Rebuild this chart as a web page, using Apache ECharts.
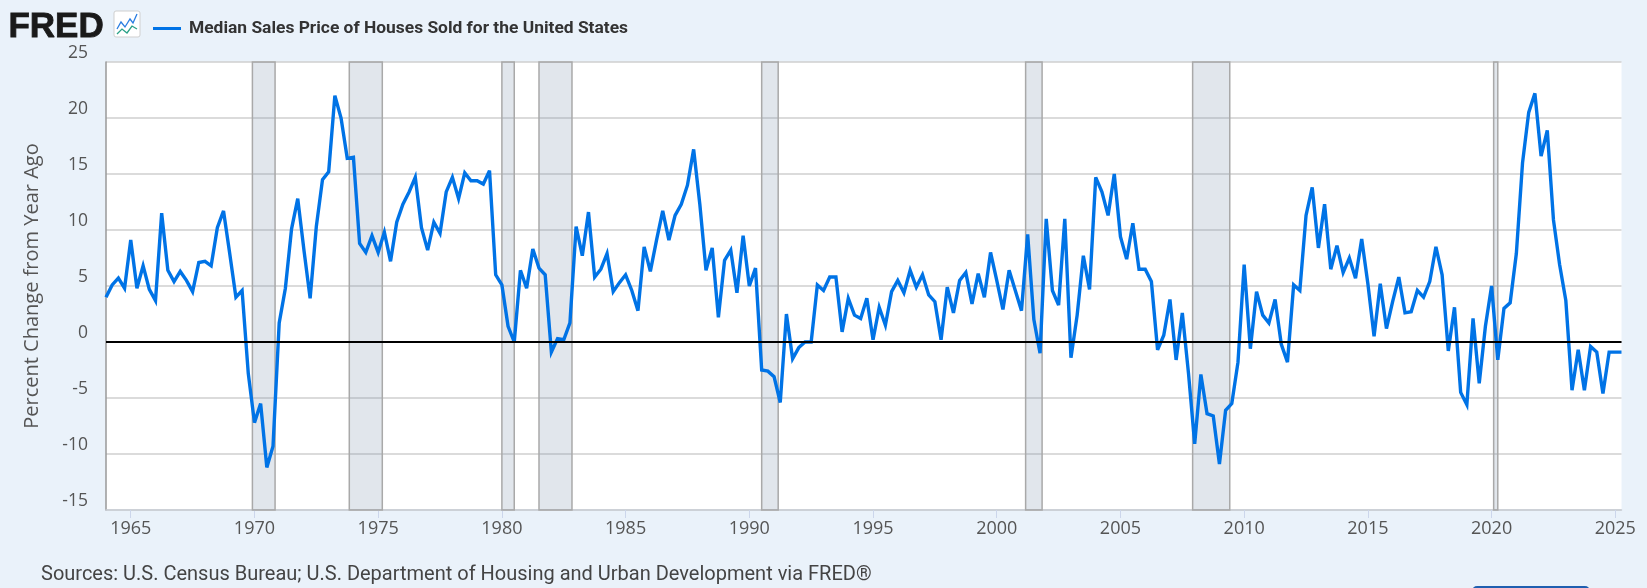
<!DOCTYPE html>
<html>
<head>
<meta charset="utf-8">
<script src="https://cdn.jsdelivr.net/npm/echarts@6/dist/echarts.min.js"></script>
<style>
html,body{margin:0;padding:0;background:#eaf2fa;}
#chart{width:1647px;height:588px;}
</style>
</head>
<body>
<div id="chart"></div>
<script>
// quarterly percent change from year ago, starting 1964 Q1
const startYear = 1964;
const v1960s = [4.0,5.1,5.7,4.8, 9.1,4.8,6.8,4.7, 3.7,11.5,6.4,5.4, 6.3,5.5,4.5,7.1, 7.2,6.8,10.2,11.7, 7.9,4.0,4.6,-2.8];
const v1970s = [-7.2,-5.5,-11.2,-9.3, 1.7,4.8,10.1,12.8, 8.2,3.9,10.3,14.5, 15.2,22.0,20.0,16.4, 16.5,8.8,8.0,9.5,
                8.0,9.8,7.2,10.7, 12.3,13.4,14.7,10.2, 8.2,10.7,9.7,13.4, 14.7,12.8,15.1,14.4, 14.4,14.1,15.3,6.0];
const v1980s = [5.1,1.4,0.0,6.4, 4.8,8.3,6.6,6.0, -0.9,0.3,0.2,1.7, 10.3,7.7,11.6,5.8, 6.5,7.9,4.5,5.3,
                6.0,4.6,2.8,8.5, 6.3,9.1,11.7,9.1, 11.3,12.3,14.0,17.2, 12.3,6.4,8.4,2.2, 7.3,8.2,4.4,9.5];
const v1990s = [5.0,6.6,-2.5,-2.6, -3.1,-5.4,2.5,-1.5, -0.5,0.0,0.0,5.1, 4.6,5.8,5.8,0.9, 3.9,2.4,2.1,3.9,
                0.2,3.1,1.5,4.5, 5.5,4.4,6.4,4.9, 6.0,4.2,3.6,0.2, 4.9,2.6,5.5,6.2, 3.4,6.1,4.0,8.0];
const v2000s = [5.5,2.9,6.4,4.6, 2.8,9.6,2.0,-1.0, 11.0,4.6,3.3,11.0, -1.4,2.4,7.7,4.7, 14.7,13.4,11.3,15.0,
                9.4,7.4,10.6,6.5, 6.5,5.4,-0.7,0.6, 3.8,-1.6,2.6,-2.8, -9.1,-2.9,-6.4,-6.6, -10.9,-6.1,-5.5,-1.8];
const v2010s = [6.9,-0.6,4.5,2.4, 1.7,3.8,-0.2,-1.8, 5.1,4.6,11.3,13.8, 8.4,12.3,6.5,8.6, 6.2,7.5,5.7,9.2,
                5.2,0.5,5.2,1.2, 3.6,5.8,2.6,2.7, 4.6,4.0,5.4,8.5, 6.0,-0.8,3.1,-4.5, -5.6,2.1,-3.7,1.4];
const v2020s = [5.0,-1.6,3.0,3.5, 7.9,16.0,20.5,22.2, 16.6,18.9,10.9,6.9, 3.7,-4.3,-0.7,-4.3, -0.4,-0.9,-4.6,-0.9,
                -0.9,-0.9];

const yearTicks = [1965,1970,1975,1980,1985,1990,1995,2000,2005,2010,2015,2020,2025];
// recessions as [start, end] in decimal years
const recessions = [
  [1969.917,1970.833],[1973.833,1975.167],[1980.0,1980.5],[1981.5,1982.833],
  [1990.5,1991.167],[2001.167,2001.833],[2007.917,2009.417],[2020.083,2020.25]
];

const values = [].concat(v1960s,v1970s,v1980s,v1990s,v2000s,v2010s,v2020s);
const points = values.map((v,i) => [startYear + i/4, v]);

var myChart = echarts.init(document.getElementById('chart'));
myChart.setOption({
    animation: false,
    backgroundColor: '#eaf2fa',
    grid: {
        left: 106,
        right: 25.5,
        top: 62,
        bottom: 78,
        show: true,
        backgroundColor: '#ffffff',
        borderWidth: 0
    },
    legend: {
        left: 148,
        top: 15,
        icon: 'rect',
        itemWidth: 28,
        itemHeight: 3,
        itemGap: 8,
        data: ['Median Sales Price of Houses Sold for the United States'],
        textStyle: {
            fontFamily: 'Roboto',
            fontWeight: 'bold',
            fontSize: 17.4,
            color: '#333',
            padding: [0, 0, 0, 3]
        }
    },
    xAxis: {
        type: 'value',
        min: 1964,
        max: 2025.25,
        splitLine: { show: false },
        axisLine: { onZero: false, lineStyle: { color: '#c9ced6', width: 1.5 } },
        axisTick: { show: true, length: 8, customValues: yearTicks, lineStyle: { color: '#ccd6eb' } },
        axisLabel: {
            customValues: yearTicks,
            margin: 10,
            fontFamily: 'Open Sans',
            fontSize: 18,
            color: '#555',
            formatter: v => String(Math.round(v))
        }
    },
    yAxis: {
        type: 'value',
        min: -15,
        max: 25,
        interval: 5,
        name: 'Percent Change from Year Ago',
        nameLocation: 'middle',
        nameGap: 64,
        nameTextStyle: { fontFamily: 'Open Sans', fontSize: 20, color: '#555' },
        axisLine: { show: true, onZero: false, lineStyle: { color: '#999', width: 1.5 } },
        axisTick: { show: false },
        splitLine: { lineStyle: { color: '#cfcfcf', width: 1.5 } },
        axisLabel: {
            margin: 18,
            verticalAlign: 'bottom',
            fontFamily: 'Open Sans',
            fontSize: 17.5,
            color: '#555'
        }
    },
    graphic: [
        { type: 'text', left: 8, top: 9, style: { text: 'FRED', font: 'bold 35px "Liberation Sans"', fill: '#1a1a1a', stroke: '#1a1a1a', lineWidth: 0.8 } },
        { type: 'rect', shape: { x: 114, y: 11, width: 26, height: 26, r: 2 }, style: { fill: '#fff', stroke: '#cfcfcf', lineWidth: 1 } },
        { type: 'polyline', shape: { points: [[117,29],[121,22],[125,27],[130,19],[133,23],[137,14]] }, style: { stroke: '#2a7de1', lineWidth: 1.3, fill: null } },
        { type: 'polyline', shape: { points: [[117,34],[122,29],[127,33],[132,26],[137,29]] }, style: { stroke: '#2aa187', lineWidth: 1.3, fill: null } },
        { type: 'text', x: 41, y: 575, style: { text: 'Sources: U.S. Census Bureau; U.S. Department of Housing and Urban Development via FRED®', font: '20px Roboto', fill: '#444', verticalAlign: 'middle' } },
        { type: 'rect', shape: { x: 1472, y: 586, width: 118, height: 12, r: 5 }, style: { fill: '#1f5fb0' } }
    ],
    series: [
        {
            name: 'recessions',
            type: 'line',
            z: 1,
            silent: true,
            showSymbol: false,
            data: points,
            lineStyle: { opacity: 0 },
            markArea: {
                silent: true,
                itemStyle: { color: 'rgba(130,150,175,0.24)', borderColor: '#a9a9a9', borderWidth: 1.5 },
                data: recessions.map(r => [{ xAxis: r[0] }, { xAxis: r[1] }])
            },
            markLine: {
                silent: true,
                symbol: 'none',
                label: { show: false },
                lineStyle: { color: '#000', width: 2, type: 'solid' },
                data: [{ yAxis: 0 }]
            }
        },
        {
            name: 'Median Sales Price of Houses Sold for the United States',
            type: 'line',
            z: 3,
            showSymbol: false,
            data: points,
            itemStyle: { color: '#0073e6' },
            lineStyle: { color: '#0073e6', width: 3.4, join: 'miter', miterLimit: 4 }
        }
    ]
});
</script>
</body>
</html>
